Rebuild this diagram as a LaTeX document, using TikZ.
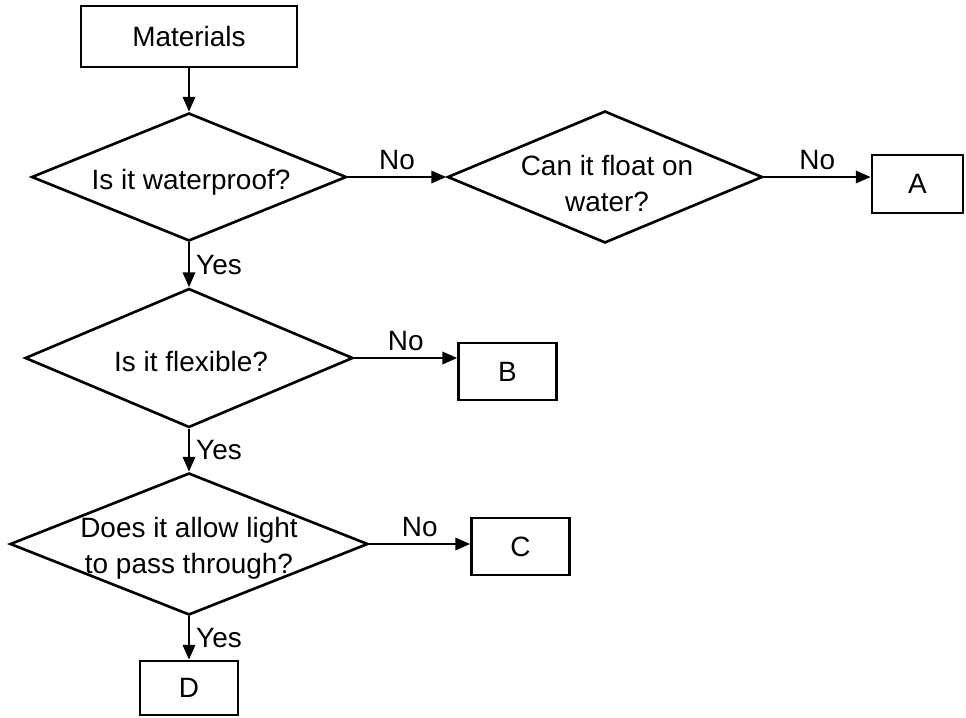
\documentclass[tikz,border=0pt]{standalone}
\usepackage{fontspec}
\setmainfont{Liberation Sans}
\usetikzlibrary{arrows.meta, shapes.geometric}
\newcommand{\flowfont}{\fontsize{15.9pt}{20.5pt}\selectfont}
\tikzset{
	basebox/.style={
		rectangle, draw=black, line width=1.5pt,
		minimum width=1.96cm, minimum height=1.14cm,
		inner sep=0pt, font=\flowfont
	},
	decision/.style={
		diamond, draw=black, line width=1.5pt, inner sep=0pt
	},
	qtext/.style={
		align=center, inner sep=0pt, font=\flowfont
	},
	arrow/.style={
		-{Triangle[length=8.5pt, width=7pt]}, line width=1.5pt
	},
	answer/.style={font=\flowfont}
}

\begin{document}
\begin{tikzpicture}[x=0.02cm, y=-0.02cm]
	\useasboundingbox (0,0) rectangle (966,717);
	
	%% ═══════════════════════════════
	%%  START
	%% ═══════════════════════════════
	\node[basebox, minimum width=4.32cm, minimum height=1.22cm] (materials) at (189,36.5) {Materials};
	
	%% ═══════════════════════════════
	%%  QUESTIONS (left column + first branch)
	%% ═══════════════════════════════
	\node[decision, minimum width=6.3cm,  minimum height=2.56cm] (waterproof) at (189,177) {};
	\node[qtext] (waterprooftxt) at (191,182) {Is it waterproof?};
	
	\node[decision, minimum width=6.3cm,  minimum height=2.64cm] (float) at (605,177) {};
	\node[qtext] (floattxt) at (607,184) {Can it float on\\water?};
	
	\node[decision, minimum width=6.56cm, minimum height=2.78cm] (flexible) at (189,358) {};
	\node[qtext] (flexibletxt) at (191,362) {Is it flexible?};
	
	\node[decision, minimum width=7.16cm, minimum height=2.84cm] (light) at (189,544) {};
	\node[qtext] (lighttxt) at (189,548) {Does it allow light\\to pass through?};
	
	%% ═══════════════════════════════
	%%  OUTCOMES
	%% ═══════════════════════════════
	\node[basebox, minimum width=1.82cm, minimum height=1.16cm] (boxA) at (917.5,184) {A};
	\node[basebox] (boxB) at (507.5,371.5) {B};
	\node[basebox] (boxC) at (520.5,546.5) {C};
	\node[basebox, minimum height=1.08cm] (boxD) at (189,688) {D};
	
	%% ═══════════════════════════════
	%%  ARROWS
	%% ═══════════════════════════════
	
	% Yes chain
	\draw[arrow] (materials.south) -- (waterproof.north);
	\draw[arrow] (waterproof.south) -- node[answer, right] (yeswater) {Yes} (flexible.north);
	\draw[arrow] (flexible.south) -- node[answer, right] (yesflex) {Yes} (light.north);
	\draw[arrow] (light.south) -- node[answer, right] (yeslight) {Yes} (boxD.north);
	
	% No branches
	\draw[arrow] (waterproof.east) -- node[answer, above] (nowater) {No} (float.west);
	\draw[arrow] (float.east) -- node[answer, above] (nofloat) {No} (float.east -| boxA.west);
	\draw[arrow] (flexible.east) -- node[answer, above] (noflex) {No} (flexible.east -| boxB.west);
	\draw[arrow] (light.east) -- node[answer, above] (nolight) {No} (light.east -| boxC.west);
\end{tikzpicture}
\end{document}
